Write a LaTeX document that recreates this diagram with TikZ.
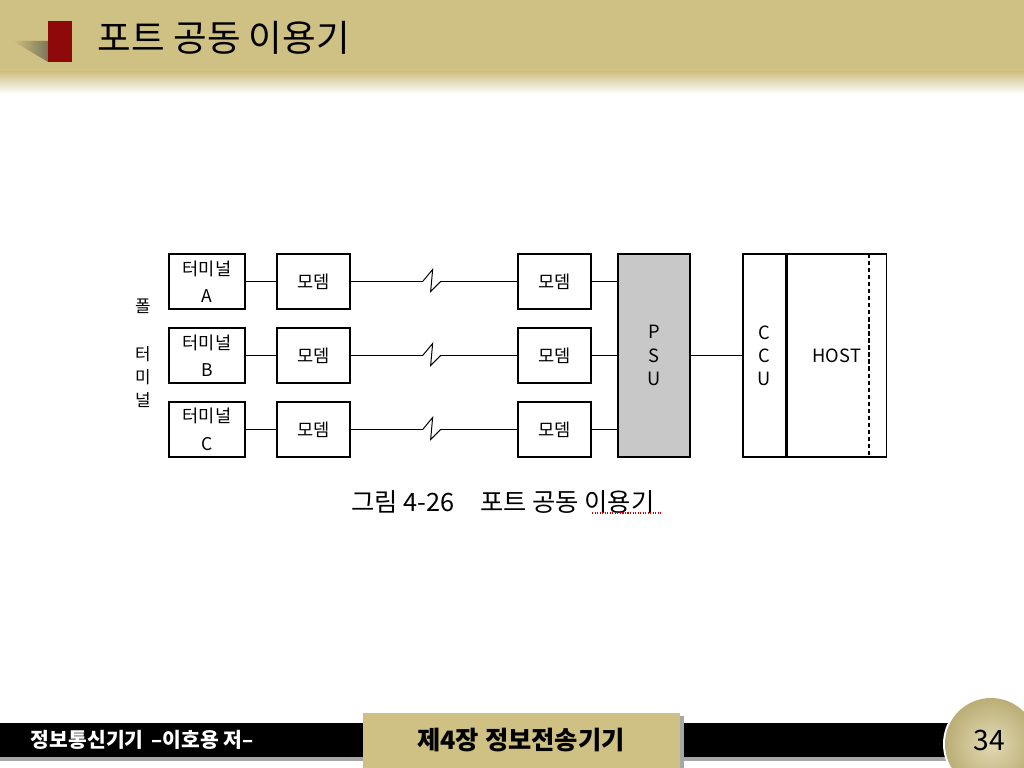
\documentclass[tikz,border=0pt]{standalone}
\usepackage{fontspec}
\setmainfont{Noto Sans CJK KR}
\definecolor{slidetan}{HTML}{CFC183}
\definecolor{slidered}{HTML}{8E0A0A}
\definecolor{slideshade}{HTML}{7A7659}
\definecolor{psugray}{HTML}{C8C8C8}
\usetikzlibrary{positioning,calc}

\begin{document}
\begin{tikzpicture}[x=0.025cm, y=-0.025cm,
  font=\fontsize{12.5}{15}\selectfont,
  box/.style={draw, line width=0.9pt, fill=white, align=center, minimum width=1.825cm, minimum height=1.375cm, inner sep=0pt},
  term/.style={box, minimum width=1.9cm, font=\fontsize{12.5}{19.5}\selectfont},
  unit/.style={box, minimum height=5.075cm, font=\fontsize{13}{16.5}\selectfont},
  wire/.style={line width=0.7pt},
  side/.style={font=\fontsize{12}{16.5}\selectfont, align=center, inner sep=0pt},
]
  \useasboundingbox (0,0) rectangle (1024,768);
  % slide header
  \fill[slidetan] (0,0) rectangle (1024,72);
  \shade[top color=slidetan, bottom color=white] (0,72) rectangle (1024,94);
  \shade[left color=slidetan, right color=slideshade] (13,41) -- (48,41) -- (48,62) -- cycle;
  \fill[slidered] (48,21) rectangle (72,62);
  \node[anchor=west, font=\fontsize{26}{30}\selectfont] (title) at (93,38) {포트 공동 이용기};

  % terminals and modems
  \foreach \r/\y in {A/281.5, B/355.5, C/429.5} {
    \node[term] (t\r)  at (207,\y)   {터미널\\\r};
    \node[box]  (ml\r) at (313.5,\y) {모뎀};
    \node[box]  (mr\r) at (554.5,\y) {모뎀};
  }
  \node[unit, fill=psugray, minimum width=1.8cm] (psu) at (654,355.5) {P\\S\\U};
  \node[unit, minimum width=1.075cm] (ccu) at (764.5,355.5) {C\\C\\U};
  \node[unit, minimum width=2.475cm, anchor=west] (host) at (ccu.east) {HOST};
  \draw[line width=0.9pt, densely dashed] (869,254) -- (869,457);

  \foreach \r in {A,B,C} {
    \draw[wire] (t\r) -- (ml\r);
    \draw[wire] (ml\r.east) -- +(72,0) -- +(82,-12) -- +(80,10) -- +(90,0) -- (mr\r.west);
    \draw[wire] (mr\r.east) -- (psu.west |- mr\r.east);
  }
  \draw[wire] (psu) -- (ccu);

  \node[side] (poll) at (143,306) {폴};
  \node[side] (termlab) at (143,377) {터\\미\\널};

  \node[font=\fontsize{18}{22}\selectfont] (cap) at (503,502) {그림 4-26\hspace{1em}포트 공동 이용기};
  \draw[red!80!black, densely dotted, line width=0.8pt] (592,513) -- (662,513);

  % slide footer
  \fill[black!35] (0,757) rectangle (965,761);
  \fill[black] (0,723) rectangle (965,757);
  \fill[black!35] (680,716) rectangle (684,768);
  \fill[slidetan] (363,713) rectangle (680,768);
  \node[text=white, font=\bfseries\fontsize{14.5}{17}\selectfont, anchor=west] (author) at (26,740) {정보통신기기 \,–이호용 저–};
  \node[font=\bfseries\fontsize{18}{21}\selectfont] (chapter) at (521,740) {제4장 정보전송기기};
  \fill[white] (991,744) circle (48);
  \shade[inner color=slidetan!60!white, outer color=slidetan!90!black] (991,744) circle (46);
  \node[font=\fontsize{20}{24}\selectfont] (page) at (989,740) {34};
\end{tikzpicture}
\end{document}
